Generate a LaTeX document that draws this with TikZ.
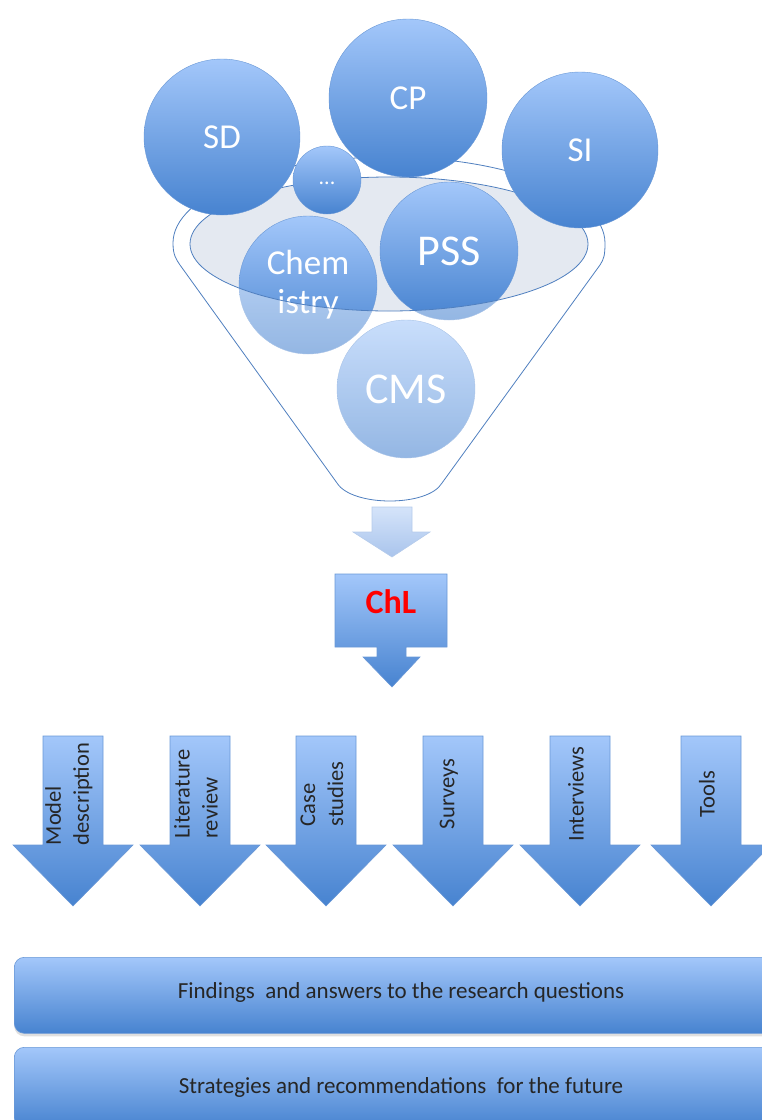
\documentclass[tikz,border=0pt]{standalone}
\usepackage{fontspec}
\setmainfont{Carlito}
\usetikzlibrary{shadows}
\definecolor{btop}{HTML}{A3C7FA}
\definecolor{bbot}{HTML}{4783D0}
\definecolor{bedge}{HTML}{6A98D6}
\definecolor{fline}{HTML}{4F7FBF}
\definecolor{ellfill}{HTML}{E4E9F1}
\definecolor{ltop}{HTML}{D5E4FA}
\definecolor{lbot}{HTML}{A9C4EC}
\definecolor{ledge}{HTML}{B5CBEB}
\definecolor{chlred}{HTML}{FF0000}
\newcommand\fsz[2]{\fontsize{#1}{#2}\selectfont}
\begin{document}
\begin{tikzpicture}[x=1pt,y=-1pt,
  bub/.style={circle, inner sep=0pt, top color=btop, bottom color=bbot, text=white, draw=bedge, line width=0.4pt},
  shapefill/.style={top color=btop, bottom color=bbot, draw=bedge, line width=0.6pt},
  lightfill/.style={top color=ltop, bottom color=lbot, draw=ledge, line width=0.6pt},
  bartext/.style={font=\fsz{23}{27}, text=black!85},
  arrtext/.style={font=\fsz{22.5}{28}, text=black!85, rotate=90, align=left},
  bar/.style={rounded corners=10pt, top color=btop, bottom color=bbot, draw=bedge, line width=0.6pt,
    drop shadow={opacity=0.25, shadow xshift=0pt, shadow yshift=-3pt}}
]
\useasboundingbox (0,0) rectangle (762,1120);
\clip (0,0) rectangle (762,1120);

% inner ellipse fill
\fill[ellfill] (389,244) ellipse [x radius=199, y radius=67];

% lower circles
\node[bub, minimum size=138pt, font=\fsz{35}{39}, align=center] (chem) at (308,285) {Chem\\istry};
\node[bub, minimum size=138pt, font=\fsz{44}{48}] (pss) at (449,251) {PSS};
\node[bub, minimum size=138pt, font=\fsz{44}{48}] (cms) at (406,389) {CMS};

% translucent funnel body
\fill[white, fill opacity=0.42, even odd rule]
  (173,243) .. controls (173,255) and (176,259) .. (180,265) -- (337,483)
  .. controls (352,507) and (428,507) .. (442,483) -- (600,265)
  .. controls (604,259) and (605,255) .. (605,243)
  arc[start angle=0, end angle=-180, x radius=216, y radius=86] -- cycle
  (389,244) ellipse [x radius=199, y radius=67];

% outlines
\draw[fline, line width=0.8pt] (389,244) ellipse [x radius=199, y radius=67];
\draw[fline, line width=0.8pt]
  (173,243) .. controls (173,255) and (176,259) .. (180,265) -- (337,483)
  .. controls (352,507) and (428,507) .. (442,483) -- (600,265)
  .. controls (604,259) and (605,255) .. (605,243)
  arc[start angle=0, end angle=-180, x radius=216, y radius=86] -- cycle;

% top circles
\node[bub, minimum size=156pt, font=\fsz{35}{39}] (sd) at (222,137) {SD};
\node[bub, minimum size=158pt, font=\fsz{35}{39}] (cp) at (408,98) {CP};
\node[bub, minimum size=156pt, font=\fsz{35}{39}] (si) at (580,150) {SI};
\node[bub, minimum size=68pt, font=\fsz{22}{26}] (dots) at (327,180) {\raisebox{-9pt}{...}};

% light arrow
\path[lightfill] (372,507) -- (412,507) -- (412,532) -- (430,532) -- (392,557) -- (353,532) -- (372,532) -- cycle;

% ChL callout
\path[shapefill] (335,574) -- (447,574) -- (447,647) -- (406,647) -- (406,657) -- (420,657)
  -- (392,687) -- (363,657) -- (377,657) -- (377,647) -- (335,647) -- cycle;
\node[font=\bfseries\fsz{34}{38}, text=chlred] (chl) at (391,602) {ChL};

% method arrows
\foreach \x/\t/\n in {73/{Model\\description}/a1, 200/{Literature\\review}/a2, 326/{Case\\studies}/a3,
  453/{Surveys}/a4, 580/{Interviews}/a5, 711/{Tools}/a6}{
  \path[shapefill] (\x-30,736) -- (\x+30,736) -- (\x+30,845) -- (\x+60,845) -- (\x,906)
    -- (\x-60,845) -- (\x-30,845) -- cycle;
  \node[arrtext] (\n) at (\x-4,794) {\t};
}

% bars
\node[bar, anchor=north west, minimum width=775pt, minimum height=76pt, inner sep=0pt] (find) at (14,957) {};
\node[bartext] (findt) at (401,992) {Findings\ \ and answers to the research questions};
\node[bar, anchor=north west, minimum width=775pt, minimum height=80pt, inner sep=0pt] (strat) at (14,1047) {};
\node[bartext] (stratt) at (401,1087) {Strategies and recommendations\ \ for the future};
\end{tikzpicture}
\end{document}
